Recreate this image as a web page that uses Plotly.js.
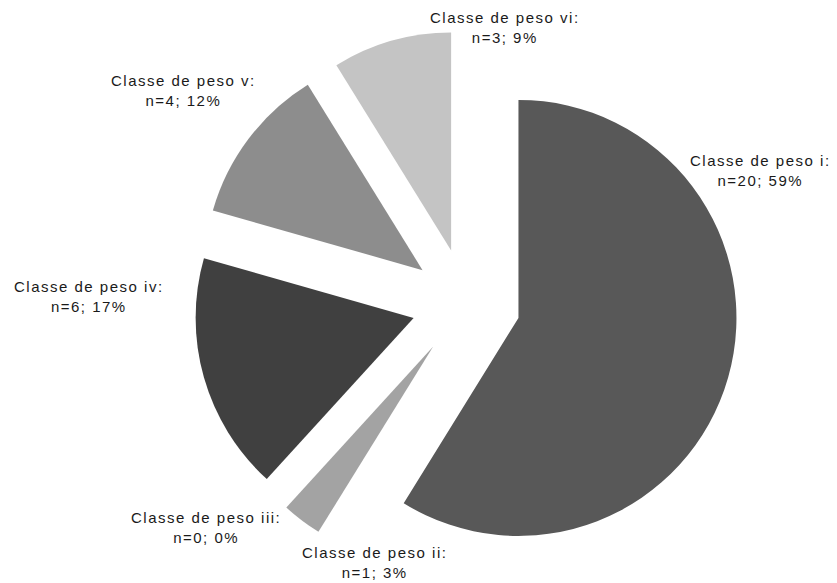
<!DOCTYPE html>
<html>
<head>
<meta charset="utf-8">
<script src="https://cdn.plot.ly/plotly-3.0.1.min.js"></script>
<style>
html,body{margin:0;padding:0;background:#fff;}
#chart{width:837px;height:583px;}
.annotation-text{letter-spacing:1.5px;}
</style>
</head>
<body>
<div id="chart"></div>
<script>
// Data
const categories = ["Classe de peso i", "Classe de peso ii", "Classe de peso iii", "Classe de peso iv", "Classe de peso v", "Classe de peso vi"];
const counts = [20, 1, 0, 6, 4, 3];
const percentLabels = [59, 3, 0, 17, 12, 9];

// Styles / positions (kept separate from data)
const sliceColors = ["#585858", "#a3a3a3", "#7f7f7f", "#404040", "#8d8d8d", "#c4c4c4"];
const labelPos = [[760, 170], [374, 562], [206, 527], [89, 296], [183, 90], [505, 27]];
const W = 837, H = 583;

const trace = {
  type: "pie",
  labels: categories,
  values: counts,
  sort: false,
  direction: "clockwise",
  rotation: 0,
  pull: 0.25,
  textinfo: "none",
  hoverinfo: "label+value+percent",
  marker: { colors: sliceColors, line: { width: 0 } },
  domain: { x: [0.2312, 0.8824], y: [0.0129, 0.9477] },
  showlegend: false
};

const annotations = categories.map((c, i) => ({
  xref: "paper", yref: "paper",
  x: labelPos[i][0] / W, y: 1 - labelPos[i][1] / H,
  xanchor: "center", yanchor: "middle",
  showarrow: false,
  align: "center",
  text: c + ":<br>n=" + counts[i] + "; " + percentLabels[i] + "%",
  font: { family: "Liberation Sans, Arial, sans-serif", size: 15, color: "#1a1a1a" }
}));

const layout = {
  width: W, height: H,
  margin: { l: 0, r: 0, t: 0, b: 0 },
  paper_bgcolor: "#ffffff",
  plot_bgcolor: "#ffffff",
  showlegend: false,
  annotations: annotations
};

Plotly.newPlot("chart", [trace], layout, { displayModeBar: false, staticPlot: true });
</script>
</body>
</html>
